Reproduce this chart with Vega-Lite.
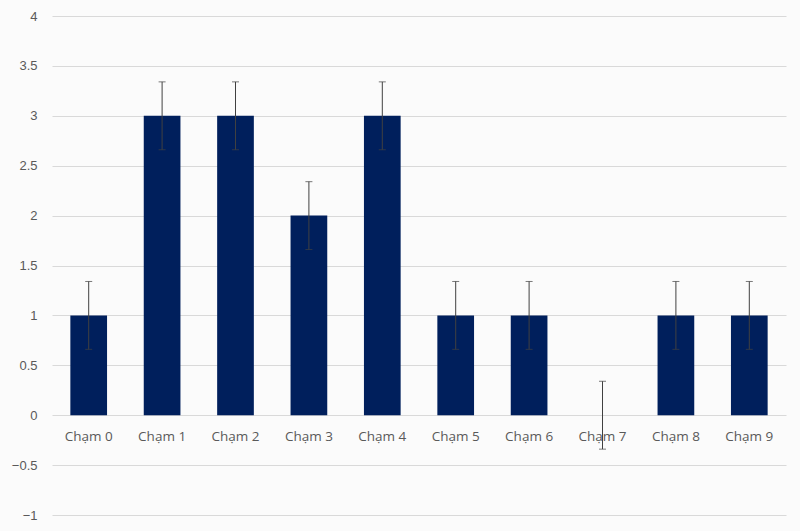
{
  "$schema": "https://vega.github.io/schema/vega-lite/v6.json",
  "width": 734,
  "height": 499,
  "autosize": {"type": "none"},
  "padding": {"left": 52, "top": 16, "right": 14, "bottom": 16},
  "background": "#fbfbfb",
  "config": {"view": {"stroke": null}, "font": "Open Sans"},
  "data": {
    "values": [
      {"cat": "Chạm 0", "value": 1, "lo": 0.66, "hi": 1.34},
      {"cat": "Chạm 1", "value": 3, "lo": 2.66, "hi": 3.34},
      {"cat": "Chạm 2", "value": 3, "lo": 2.66, "hi": 3.34},
      {"cat": "Chạm 3", "value": 2, "lo": 1.66, "hi": 2.34},
      {"cat": "Chạm 4", "value": 3, "lo": 2.66, "hi": 3.34},
      {"cat": "Chạm 5", "value": 1, "lo": 0.66, "hi": 1.34},
      {"cat": "Chạm 6", "value": 1, "lo": 0.66, "hi": 1.34},
      {"cat": "Chạm 7", "value": 0, "lo": -0.34, "hi": 0.34},
      {"cat": "Chạm 8", "value": 1, "lo": 0.66, "hi": 1.34},
      {"cat": "Chạm 9", "value": 1, "lo": 0.66, "hi": 1.34}
    ]
  },
  "encoding": {
    "x": {
      "field": "cat",
      "type": "nominal",
      "sort": null,
      "axis": null,
      "scale": {"paddingInner": 0.5, "paddingOuter": 0.25}
    }
  },
  "layer": [
    {
      "mark": {"type": "bar", "color": "#001f5c"},
      "encoding": {
        "y": {
          "field": "value",
          "type": "quantitative",
          "scale": {"domain": [-1, 4], "nice": false},
          "axis": {
            "title": null,
            "values": [-1, -0.5, 0, 0.5, 1, 1.5, 2, 2.5, 3, 3.5, 4],
            "format": "~g",
            "domain": false,
            "ticks": false,
            "gridColor": "#d9d9d9",
            "gridWidth": 1,
            "labelPadding": 15,
            "labelFont": "Liberation Sans",
            "labelFontSize": 13,
            "labelColor": "#595959"
          }
        }
      }
    },
    {
      "mark": {"type": "rule", "color": "#404040", "strokeWidth": 1},
      "encoding": {
        "y": {"field": "lo", "type": "quantitative"},
        "y2": {"field": "hi"}
      }
    },
    {
      "mark": {"type": "tick", "color": "#404040", "size": 7, "thickness": 1},
      "encoding": {"y": {"field": "lo", "type": "quantitative"}}
    },
    {
      "mark": {"type": "tick", "color": "#404040", "size": 7, "thickness": 1},
      "encoding": {"y": {"field": "hi", "type": "quantitative"}}
    },
    {
      "mark": {"type": "text", "baseline": "middle", "dy": 22, "fontSize": 13.5, "color": "#595959"},
      "encoding": {
        "y": {"datum": 0, "type": "quantitative"},
        "text": {"field": "cat"}
      }
    }
  ]
}
